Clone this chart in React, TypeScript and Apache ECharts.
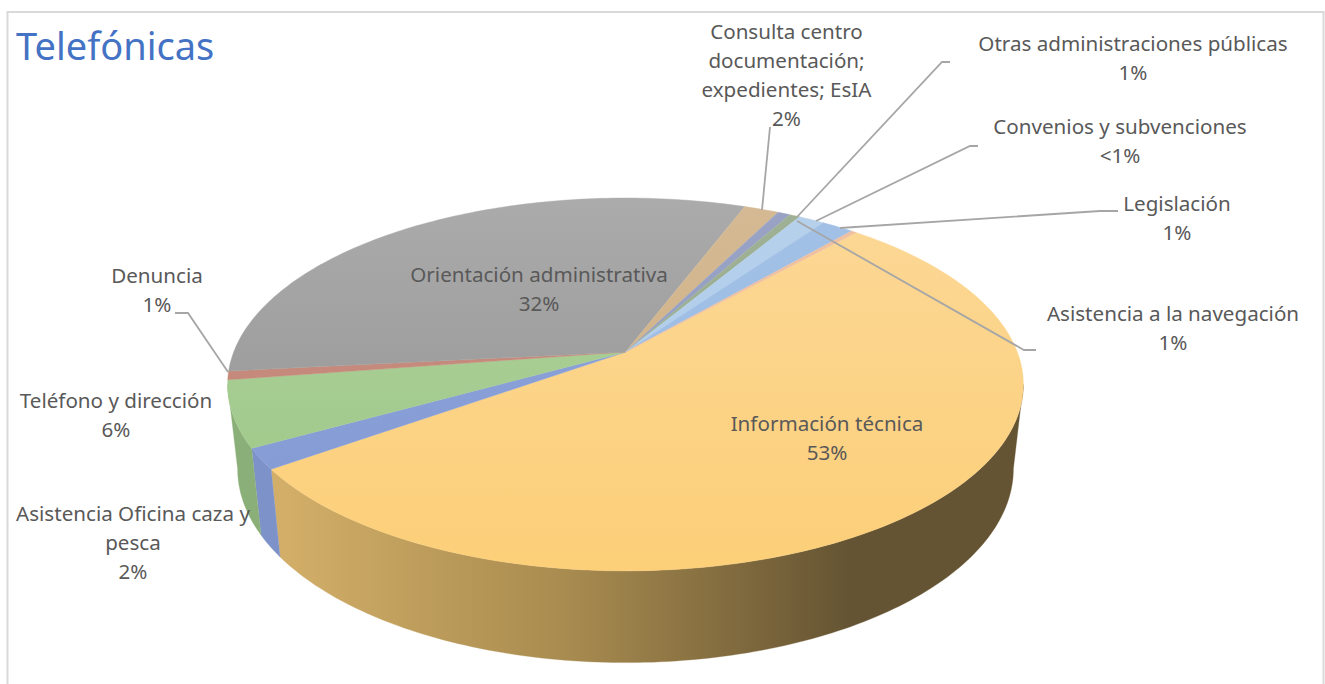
import React, { useEffect, useRef } from "react";
import * as echarts from "echarts";

const categories = [
  "Información técnica",
  "Asistencia Oficina caza y\npesca",
  "Teléfono y dirección",
  "Denuncia",
  "Orientación administrativa",
  "Consulta centro\ndocumentación;\nexpedientes; EsIA",
  "Otras administraciones públicas",
  "Convenios y subvenciones",
  "Legislación",
  "Asistencia a la navegación",
  "",
];
const values = [53.5, 1.8, 5.7, 0.75, 32.4, 1.67, 0.6, 0.5, 1.25, 1.55, 0.25];
const percentLabels = ["53%", "2%", "6%", "1%", "32%", "2%", "1%", "<1%", "1%", "1%", ""];

const topColors = [
  ["#FCD897", "#FCCF78"],
  ["#8FA4DA", "#8299D3"],
  ["#AFD19D", "#9CC785"],
  ["#C98F80", "#C08475"],
  ["#ABABAB", "#8F8F8F"],
  ["#D4B994", "#CFAF7F"],
  ["#9AA3C4", "#8C9AC4"],
  ["#A0B196", "#8FAB85"],
  ["#B7D1EC", "#A9C8E8"],
  ["#A3C1E6", "#97B9E3"],
  ["#EFC0A0", "#EFC0A0"],
];
const wallColors = [
  ["#D2AE68", "#A88B4F", "#655433"],
  ["#7D92C8", "#6C84BE", "#6C84BE"],
  ["#8BAF78", "#84A96F", "#84A96F"],
  ["#A8796D", "#A8796D", "#A8796D"],
  ["#7A7A7A", "#7A7A7A", "#7A7A7A"],
  ["#A08A6A", "#A08A6A", "#A08A6A"],
  ["#7582A6", "#7582A6", "#7582A6"],
  ["#7D9172", "#7D9172", "#7D9172"],
  ["#8EA8C6", "#8EA8C6", "#8EA8C6"],
  ["#829EC2", "#829EC2", "#829EC2"],
  ["#BFA080", "#BFA080", "#BFA080"],
];

// Label anchor (centre of the text block) for each category
const labelAnchors: number[][] = [
  [827, 437],
  [133, 542],
  [116, 414],
  [157, 289],
  [539, 288],
  [786.5, 74],
  [1133, 57],
  [1120, 140],
  [1177, 217],
  [1173, 327],
  [0, 0],
];
// Leader lines
const leaders: number[][][] = [
  [[770, 127], [762, 210]],
  [[950, 62], [942, 62], [797, 217]],
  [[978, 146], [970, 146], [816, 221]],
  [[1118, 211], [1100, 211], [840, 228]],
  [[1036, 350], [1024, 350], [797, 221]],
  [[175, 313], [188, 313], [228, 372]],
];

const START_ANGLE = 41.7;
const CX = 625.5;
const K = 0.174;
const TOP = { a: 391.8, b: 180.8, y0: 352 };
const BOTTOM = { a: 382, b: 188, y0: 435 };
const WALL_FROM = 100;
const WALL_TO = 260;
const FONT = "'Noto Sans', 'Open Sans', sans-serif";

const total = values.reduce((s, v) => s + v, 0);
const project = (deg: number, p: { a: number; b: number; y0: number }) => {
  const r = (deg * Math.PI) / 180;
  const u = Math.sin(r);
  const v = -Math.cos(r);
  const d = 1 - K * v;
  return [CX + (p.a * u) / d, p.y0 + (p.b * v) / d];
};
const sliceRange = (idx: number) => {
  let s = START_ANGLE;
  for (let i = 0; i < idx; i++) s += (values[i] / total) * 360;
  return [s, s + (values[idx] / total) * 360];
};
const rim = (from: number, to: number, p: { a: number; b: number; y0: number }) => {
  const n = Math.max(2, Math.ceil(Math.abs(to - from)));
  const pts: number[][] = [];
  for (let i = 0; i <= n; i++) pts.push(project(from + ((to - from) * i) / n, p));
  return pts;
};
const grad = (x: number, y: number, x2: number, y2: number, cols: string[]) => ({
  type: "linear",
  global: true,
  x,
  y,
  x2,
  y2,
  colorStops: cols.map((c, i) => ({ offset: i / (cols.length - 1), color: c })),
});

export default function App() {
  const ref = useRef<HTMLDivElement>(null);
  useEffect(() => {
    document.body.style.margin = "0";
    document.body.style.background = "#fff";
    const chart = echarts.init(ref.current!, null, { renderer: "svg" });
    const data = values.map((v, i) => [i, v]);
    chart.setOption({
      animation: false,
      backgroundColor: "#fff",
      title: {
        text: "Telefónicas",
        left: 16,
        top: 26,
        padding: 0,
        textStyle: { color: "#4472C4", fontSize: 38, fontWeight: "normal", fontFamily: FONT },
      },
      graphic: [
        { type: "rect", shape: { x: 7.5, y: 12, width: 1316, height: 700 }, style: { fill: "none", stroke: "#D9D9D9", lineWidth: 2 }, z: 0 },
      ],
      series: [
        {
          type: "custom",
          name: "walls",
          coordinateSystem: "none",
          z: 2,
          data,
          renderItem: (_p: any, api: any) => {
            const i = api.value(0);
            const [s, e] = sliceRange(i);
            if (e <= WALL_FROM || s >= WALL_TO) return { type: "group", children: [] };
            const from = Math.max(s, WALL_FROM);
            const to = Math.min(e, WALL_TO);
            const points = [...rim(from, to, TOP), ...rim(to, from, BOTTOM)];
            const fill = grad(285, 0, 850, 0, wallColors[i]);
            return { type: "polygon", shape: { points }, style: { fill, stroke: fill, lineWidth: 0.3 } };
          },
        },
        {
          type: "custom",
          name: "tops",
          coordinateSystem: "none",
          z: 3,
          data,
          renderItem: (_p: any, api: any) => {
            const i = api.value(0);
            const [s, e] = sliceRange(i);
            const points = [[CX, TOP.y0], ...rim(s, e, TOP)];
            const fill = grad(0, 198, 0, 571, topColors[i]);
            return { type: "polygon", shape: { points }, style: { fill, stroke: fill, lineWidth: 0.4 } };
          },
        },
        {
          type: "custom",
          name: "leaders",
          coordinateSystem: "none",
          z: 4,
          data: leaders.map((_, i) => [i]),
          renderItem: (_p: any, api: any) => ({
            type: "polyline",
            shape: { points: leaders[api.value(0)] },
            style: { fill: "none", stroke: "#A6A6A6", lineWidth: 1.8 },
          }),
        },
        {
          type: "custom",
          name: "labels",
          coordinateSystem: "none",
          z: 5,
          data,
          renderItem: (_p: any, api: any) => {
            const i = api.value(0);
            if (!categories[i]) return { type: "group", children: [] };
            const [x, y] = labelAnchors[i];
            return {
              type: "text",
              style: {
                text: categories[i] + "\n" + percentLabels[i],
                x,
                y,
                align: "center",
                verticalAlign: "middle",
                fontSize: 20.6,
                lineHeight: 29,
                fontFamily: FONT,
                fill: "#595959",
              },
            };
          },
        },
      ],
    });
    return () => chart.dispose();
  }, []);
  return <div ref={ref} style={{ position: "absolute", left: 0, top: 0, width: 1325, height: 684 }} />;
}
